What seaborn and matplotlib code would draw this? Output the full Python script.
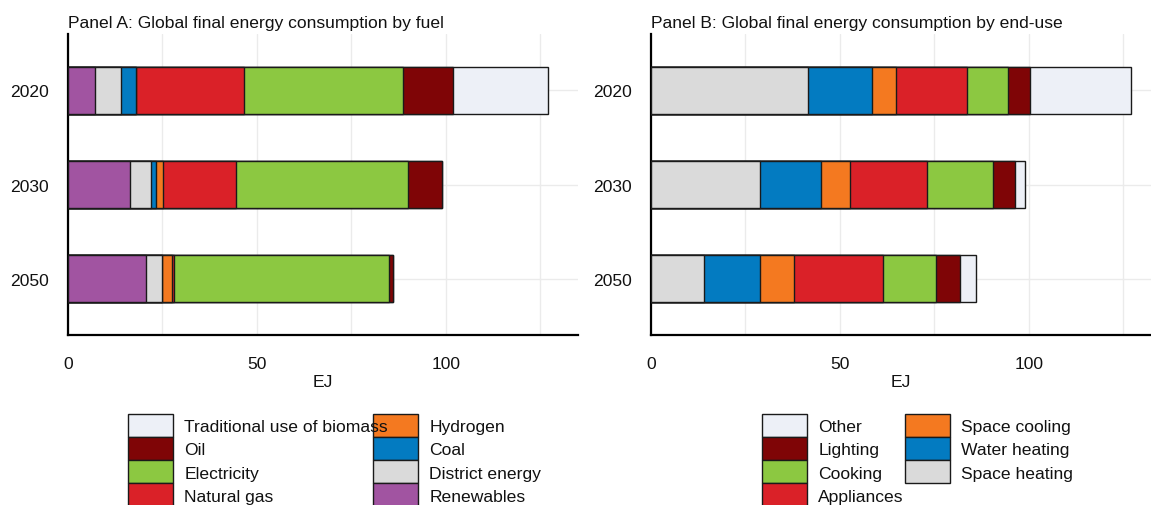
import matplotlib
matplotlib.use("Agg")
import matplotlib.pyplot as plt
from matplotlib.patches import Patch
from matplotlib.ticker import MultipleLocator
import numpy as np
import seaborn as sns

# ---- data (EJ) ----
years = ["2020", "2030", "2050"]

# Panel A: by fuel (stack order, left to right)
fuel_labels = ["Renewables", "District energy", "Coal", "Hydrogen",
               "Natural gas", "Electricity", "Oil", "Traditional use of biomass"]
renewables = [7.2, 16.3, 20.7]
district_energy = [6.9, 5.8, 4.2]
coal = [4.0, 1.2, 0.0]
hydrogen = [0.0, 1.9, 2.5]
natural_gas = [28.4, 19.3, 0.6]
electricity = [42.3, 45.4, 57.1]
oil = [13.0, 9.2, 1.0]
traditional_biomass = [25.2, 0.0, 0.0]
fuel_values = [renewables, district_energy, coal, hydrogen,
               natural_gas, electricity, oil, traditional_biomass]
fuel_colors = ["#A154A1", "#DADADA", "#037BC1", "#F47920",
               "#DA2128", "#8CC841", "#7F0506", "#EDF0F7"]

# Panel B: by end-use (stack order, left to right)
use_labels = ["Space heating", "Water heating", "Space cooling",
              "Appliances", "Cooking", "Lighting", "Other"]
space_heating = [41.5, 28.8, 14.0]
water_heating = [16.9, 16.1, 14.8]
space_cooling = [6.4, 7.7, 9.1]
appliances = [18.8, 20.4, 23.6]
cooking = [10.9, 17.4, 13.9]
lighting = [5.9, 6.0, 6.4]
other = [26.6, 2.5, 4.1]
use_values = [space_heating, water_heating, space_cooling,
              appliances, cooking, lighting, other]
use_colors = ["#DADADA", "#037BC1", "#F47920", "#DA2128",
              "#8CC841", "#7F0506", "#EDF0F7"]

# ---- style ----
sns.set_theme(style="white")
plt.rcParams["font.family"] = ["Liberation Sans", "DejaVu Sans"]
FS = 12.6
EDGE = "#1a1a1a"
GRID = "#ebebeb"
TXT = "#111111"

W, H = 1151, 506
fig = plt.figure(figsize=(W / 100, H / 100), dpi=100)


def px_axes(x0, x1, y0, y1):
    return fig.add_axes([x0 / W, 1 - y1 / H, (x1 - x0) / W, (y1 - y0) / H])


def stacked(ax, values, colors):
    cum = np.cumsum(np.array(values, dtype=float), axis=0)
    # draw widest cumulative bar first, narrower ones on top
    for i in reversed(range(len(values))):
        sns.barplot(x=cum[i], y=years, order=years, orient="y", color=colors[i],
                    saturation=1, width=0.5, edgecolor=EDGE, linewidth=1.0,
                    errorbar=None, ax=ax, zorder=3)


def style_axes(ax, title, xmax):
    ax.set_xlim(0, xmax)
    ax.set_ylim(2.6, -0.6)
    ax.xaxis.set_major_locator(MultipleLocator(50))
    ax.xaxis.set_minor_locator(MultipleLocator(25))
    ax.grid(axis="x", which="both", color=GRID, linewidth=1.0, zorder=0)
    ax.grid(axis="y", which="major", color=GRID, linewidth=1.0, zorder=0)
    ax.set_axisbelow(True)
    for s in ("top", "right"):
        ax.spines[s].set_visible(False)
    for s in ("left", "bottom"):
        ax.spines[s].set_color("black")
        ax.spines[s].set_linewidth(1.6)
    ax.tick_params(axis="both", which="major", direction="in", length=4.5,
                   width=1.2, color="black", labelsize=FS, labelcolor=TXT)
    ax.tick_params(axis="x", which="major", pad=15)
    ax.tick_params(axis="y", which="major", pad=14)
    ax.tick_params(axis="x", which="minor", length=0)
    ax.set_ylabel("")
    ax.set_xlabel("EJ", fontsize=FS, labelpad=2.5, color=TXT)
    ax.set_title(title, loc="left", fontsize=FS, pad=5, color=TXT)


def column_legend(labels, colors, x, y):
    handles = [Patch(facecolor=c, edgecolor=EDGE, linewidth=1.0) for c in colors]
    fig.legend(handles, labels, loc="upper left", bbox_to_anchor=(x / W, 1 - y / H),
               frameon=False, fontsize=FS, borderpad=0, borderaxespad=0,
               handlelength=2.59, handleheight=1.657, handletextpad=0.63,
               labelspacing=0.0, labelcolor=TXT)


axA = px_axes(68, 578, 35, 336)
stacked(axA, fuel_values, fuel_colors)
style_axes(axA, "Panel A: Global final energy consumption by fuel", 135)

axB = px_axes(651, 1151, 35, 336)
stacked(axB, use_values, use_colors)
style_axes(axB, "Panel B: Global final energy consumption by end-use", 132.3)

# legends: reverse stack order, filled column by column (4 rows);
# the right-hand column is added first so long left-hand labels sit on top
fl, fc = fuel_labels[::-1], fuel_colors[::-1]
column_legend(fl[4:], fc[4:], 373, 415)
column_legend(fl[:4], fc[:4], 128, 415)

ul, uc = use_labels[::-1], use_colors[::-1]
column_legend(ul[4:], uc[4:], 905, 415)
column_legend(ul[:4], uc[:4], 762, 415)

fig.savefig("out.png", dpi=100)
